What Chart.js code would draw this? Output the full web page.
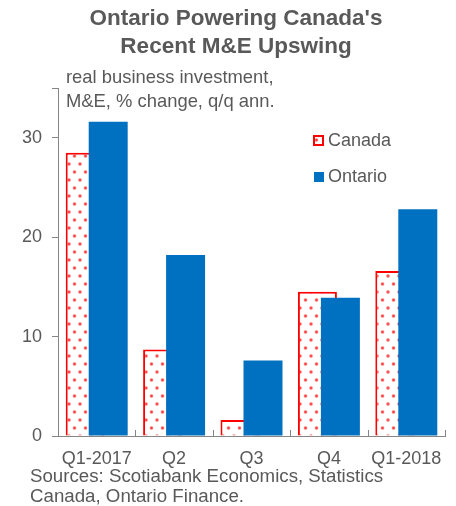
<!DOCTYPE html>
<html>
<head>
<meta charset="utf-8">
<script src="https://cdn.jsdelivr.net/npm/chart.js@4"></script>
<style>
  html, body { margin: 0; padding: 0; background: #fff; }
</style>
</head>
<body>
<canvas id="chart" width="456" height="506"></canvas>
<script>
// data
const categories = ['Q1-2017', 'Q2', 'Q3', 'Q4', 'Q1-2018'];
const canada = [28.5, 8.7, 1.6, 14.5, 16.6];
const ontario = [31.6, 18.2, 7.6, 13.9, 22.8];
const yTicks = [0, 10, 20, 30];
const titleLines = ["Ontario Powering Canada's", 'Recent M&E Upswing'];
const unitLines = ['real business investment,', 'M&E, % change, q/q ann.'];
const sourceLines = ['Sources: Scotiabank Economics, Statistics', 'Canada, Ontario Finance.'];

const FONT = "'Liberation Sans', Arial, sans-serif";
const TEXT = '#595959';
const AXIS = '#868686';
const RED = '#ff0000';
const BLUE = '#0070c0';

const canvas = document.getElementById('chart');
const ctx = canvas.getContext('2d');

// white fill with red dots, like the excel pattern
function dotPattern() {
  const c = document.createElement('canvas');
  c.width = 11; c.height = 16;
  const g = c.getContext('2d');
  g.fillStyle = '#fff';
  g.fillRect(0, 0, 11, 16);
  [[3, 4], [8.5, 12]].forEach(([x, y]) => {
    const grad = g.createRadialGradient(x, y, 0, x, y, 2.3);
    grad.addColorStop(0, 'rgba(255,20,20,0.95)');
    grad.addColorStop(0.5, 'rgba(255,40,40,0.7)');
    grad.addColorStop(1, 'rgba(255,60,60,0)');
    g.fillStyle = grad;
    g.beginPath();
    g.arc(x, y, 2.3, 0, Math.PI * 2);
    g.fill();
  });
  return ctx.createPattern(c, 'repeat');
}
const dots = dotPattern();

// Ontario overlaps Canada: skip it in the normal pass and draw it last
const overlap = {
  id: 'overlap',
  beforeDatasetDraw(chart, args) {
    if (args.index === 1 && !chart._ontarioPass) return false;
  },
  afterDatasetsDraw(chart) {
    chart._ontarioPass = true;
    chart.getDatasetMeta(1).controller.draw();
    chart._ontarioPass = false;
  }
};

// texts, legend and the inward x ticks
const decor = {
  id: 'decor',
  afterDraw(chart) {
    const c = chart.ctx;
    const xs = chart.scales.x;
    c.save();

    // x ticks between categories, pointing up
    const w = xs.width / categories.length;
    c.strokeStyle = AXIS;
    c.lineWidth = 1;
    for (let i = 0; i <= categories.length; i++) {
      const x = Math.round(xs.left + i * w) + 0.5;
      c.beginPath();
      c.moveTo(x, xs.top - 6);
      c.lineTo(x, xs.top);
      c.stroke();
    }

    c.fillStyle = TEXT;
    c.textBaseline = 'middle';
    c.textAlign = 'center';
    c.font = 'bold 22.5px ' + FONT;
    c.fillText(titleLines[0], 236, 19);
    c.fillText(titleLines[1], 236, 47);

    c.textAlign = 'left';
    c.font = '18.4px ' + FONT;
    c.fillText(unitLines[0], 66, 78);
    c.fillText(unitLines[1], 66, 102);
    c.font = '18.7px ' + FONT;
    c.fillText(sourceLines[0], 30, 477);
    c.fillText(sourceLines[1], 30, 497);

    // legend
    const ds = chart.data.datasets;
    c.font = '18px ' + FONT;
    c.fillStyle = dots;
    c.fillRect(313, 135, 11, 11);
    c.strokeStyle = RED;
    c.lineWidth = 2;
    c.strokeRect(314, 136, 9, 9);
    c.fillStyle = BLUE;
    c.fillRect(314, 172, 10, 10);
    c.fillStyle = TEXT;
    c.fillText(ds[0].label, 328, 141);
    c.fillText(ds[1].label, 328, 177);
    c.restore();
  }
};

new Chart(ctx, {
  type: 'bar',
  data: {
    labels: categories,
    datasets: [
      { label: 'Canada', data: canada,
        backgroundColor: dots, borderColor: RED, borderWidth: 2, borderSkipped: 'bottom' },
      { label: 'Ontario', data: ontario,
        backgroundColor: BLUE, borderWidth: 0 }
    ]
  },
  options: {
    responsive: false,
    animation: false,
    events: [],
    categoryPercentage: 0.594,
    barPercentage: 1.696,
    layout: { padding: { left: 0, top: 88, right: 11, bottom: 30 } },
    plugins: {
      legend: { display: false },
      title: { display: false },
      tooltip: { enabled: false }
    },
    scales: {
      x: {
        grid: { display: false, drawTicks: false },
        border: { display: true, color: AXIS, width: 1 },
        ticks: { color: TEXT, font: { family: FONT, size: 18 }, padding: 12, maxRotation: 0, autoSkip: false },
        afterFit: s => { s.height = 40; }
      },
      y: {
        min: 0,
        max: 35,
        afterBuildTicks: s => { s.ticks = yTicks.concat([35]).map(v => ({ value: v })); },
        ticks: {
          color: TEXT,
          font: { family: FONT, size: 18 },
          padding: 10,
          callback: v => (yTicks.includes(v) ? v : '')
        },
        grid: { drawOnChartArea: false, drawTicks: true, tickLength: 6, color: AXIS, lineWidth: 1 },
        border: { color: AXIS, width: 1 },
        afterFit: s => { s.width = 58; }
      }
    }
  },
  plugins: [overlap, decor]
});
</script>
</body>
</html>
